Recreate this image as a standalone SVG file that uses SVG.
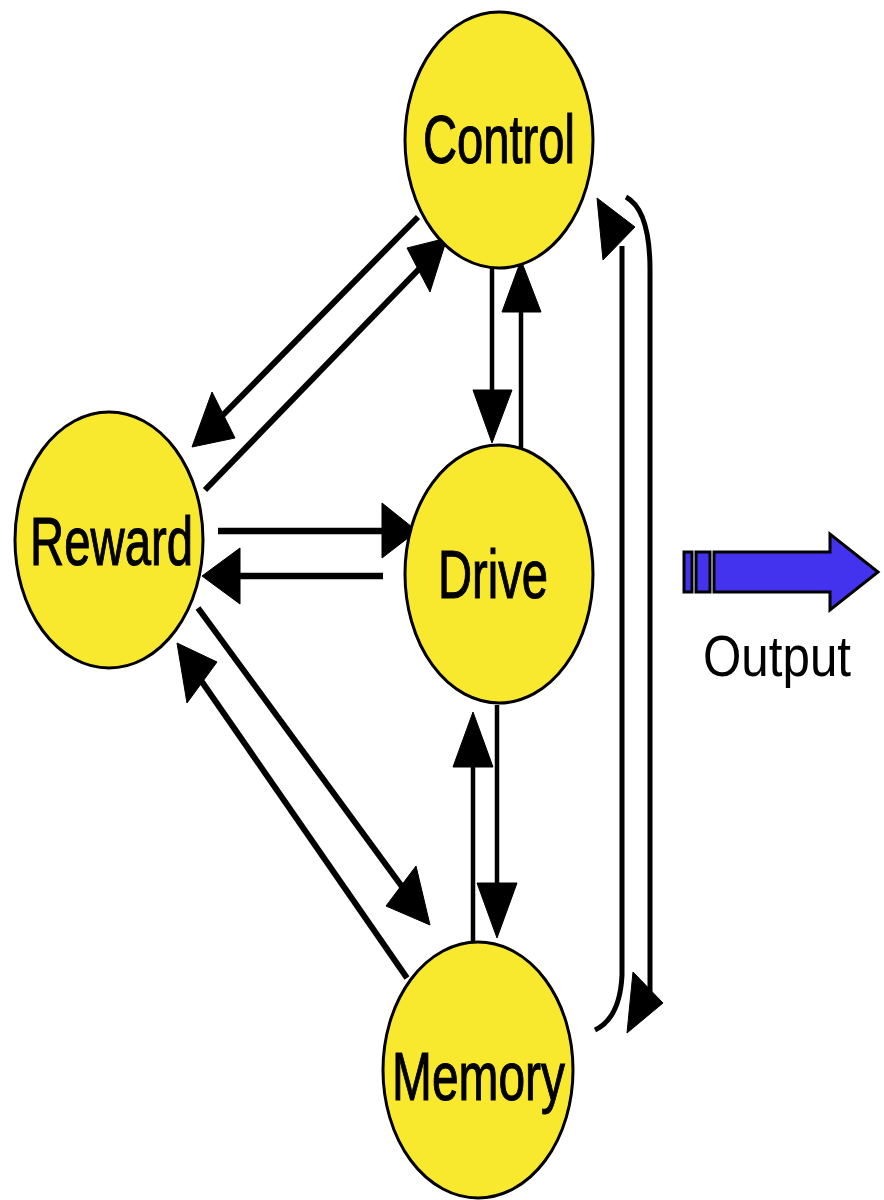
<svg xmlns="http://www.w3.org/2000/svg" width="884" height="1200" viewBox="0 0 884 1200">
<style>
.node{fill:#F9E92E;stroke:#000;stroke-width:3}
.lbl{font-family:"Liberation Sans",Arial,sans-serif;font-size:68px;fill:#000;stroke:#000;stroke-width:1.1}
.ln{fill:none;stroke:#000;stroke-linecap:butt}
.head{fill:#000;stroke:#000;stroke-width:1;stroke-linejoin:round}
.out{fill:#4433EE;stroke:#000;stroke-width:3;stroke-linejoin:miter}
.otxt{font-family:"Liberation Sans",Arial,sans-serif;font-size:58px;fill:#000}
</style>
<rect width="884" height="1200" fill="#fff"/>
<g id="connectors">
  <!-- Control -> Reward -->
  <line class="ln" x1="418" y1="217" x2="222" y2="416" stroke-width="6"/>
  <polygon class="head" points="192,447 212,392 235,438"/>
  <!-- Reward -> Control -->
  <line class="ln" x1="205" y1="490" x2="420" y2="268" stroke-width="6"/>
  <polygon class="head" points="447,238 407,248 430,292"/>
  <!-- Control -> Drive -->
  <line class="ln" x1="492" y1="257" x2="492" y2="394" stroke-width="4.5"/>
  <polygon class="head" points="492,443 473,390 512,390"/>
  <!-- Drive -> Control -->
  <line class="ln" x1="521" y1="453" x2="521" y2="308" stroke-width="4.5"/>
  <polygon class="head" points="521,260 502,312 541,312"/>
  <!-- Reward -> Drive -->
  <line class="ln" x1="218" y1="531" x2="386" y2="531" stroke-width="6.5"/>
  <polygon class="head" points="417,531 382,503 382,558"/>
  <!-- Drive -> Reward -->
  <line class="ln" x1="383" y1="576" x2="236" y2="576" stroke-width="6.5"/>
  <polygon class="head" points="202,576 240,548 240,604"/>
  <!-- Reward -> Memory -->
  <line class="ln" x1="198" y1="608" x2="403" y2="888" stroke-width="6"/>
  <polygon class="head" points="430,925 416,866 386,906"/>
  <!-- Memory -> Reward -->
  <line class="ln" x1="407" y1="978" x2="200" y2="679" stroke-width="6"/>
  <polygon class="head" points="177,643 187,703 217,662"/>
  <!-- Drive -> Memory -->
  <line class="ln" x1="497" y1="705" x2="497" y2="887" stroke-width="4.5"/>
  <polygon class="head" points="497,938 477,883 517,883"/>
  <!-- Memory -> Drive -->
  <line class="ln" x1="473" y1="942" x2="473" y2="763" stroke-width="4.5"/>
  <polygon class="head" points="473,712 453,767 493,767"/>
  <!-- Memory -> Control (right loop, up) -->
  <path class="ln" d="M595,1030 Q620,1018 622,975 L622,246" stroke-width="5" stroke-linecap="round"/>
  <polygon class="head" points="597,198 603,260 635,227"/>
  <!-- Control -> Memory (right loop, down) -->
  <path class="ln" d="M626,197 Q650,210 650,270 L650,995" stroke-width="5" stroke-linecap="round"/>
  <polygon class="head" points="663,1003 633,972 627,1033"/>
</g>
<g id="control">
  <ellipse class="node" cx="499" cy="140" rx="94" ry="128"/>
  <text class="lbl" x="423" y="163" textLength="152" lengthAdjust="spacingAndGlyphs">Control</text>
</g>
<g id="reward">
  <ellipse class="node" cx="109" cy="540" rx="94" ry="128"/>
  <text class="lbl" x="30" y="565" textLength="163" lengthAdjust="spacingAndGlyphs">Reward</text>
</g>
<g id="drive">
  <ellipse class="node" cx="499" cy="574" rx="94" ry="129"/>
  <text class="lbl" x="438" y="598" textLength="110" lengthAdjust="spacingAndGlyphs">Drive</text>
</g>
<g id="memory">
  <ellipse class="node" cx="478" cy="1070" rx="95" ry="128"/>
  <text class="lbl" x="392" y="1100" textLength="173" lengthAdjust="spacingAndGlyphs">Memory</text>
</g>
<g id="output">
  <rect class="out" x="684" y="552" width="8" height="40"/>
  <rect class="out" x="696" y="552" width="14" height="40"/>
  <polygon class="out" points="714,552 830,552 830,534 878,572 830,610 830,592 714,592"/>
  <text class="otxt" x="703" y="676" textLength="148" lengthAdjust="spacingAndGlyphs">Output</text>
</g>
</svg>
